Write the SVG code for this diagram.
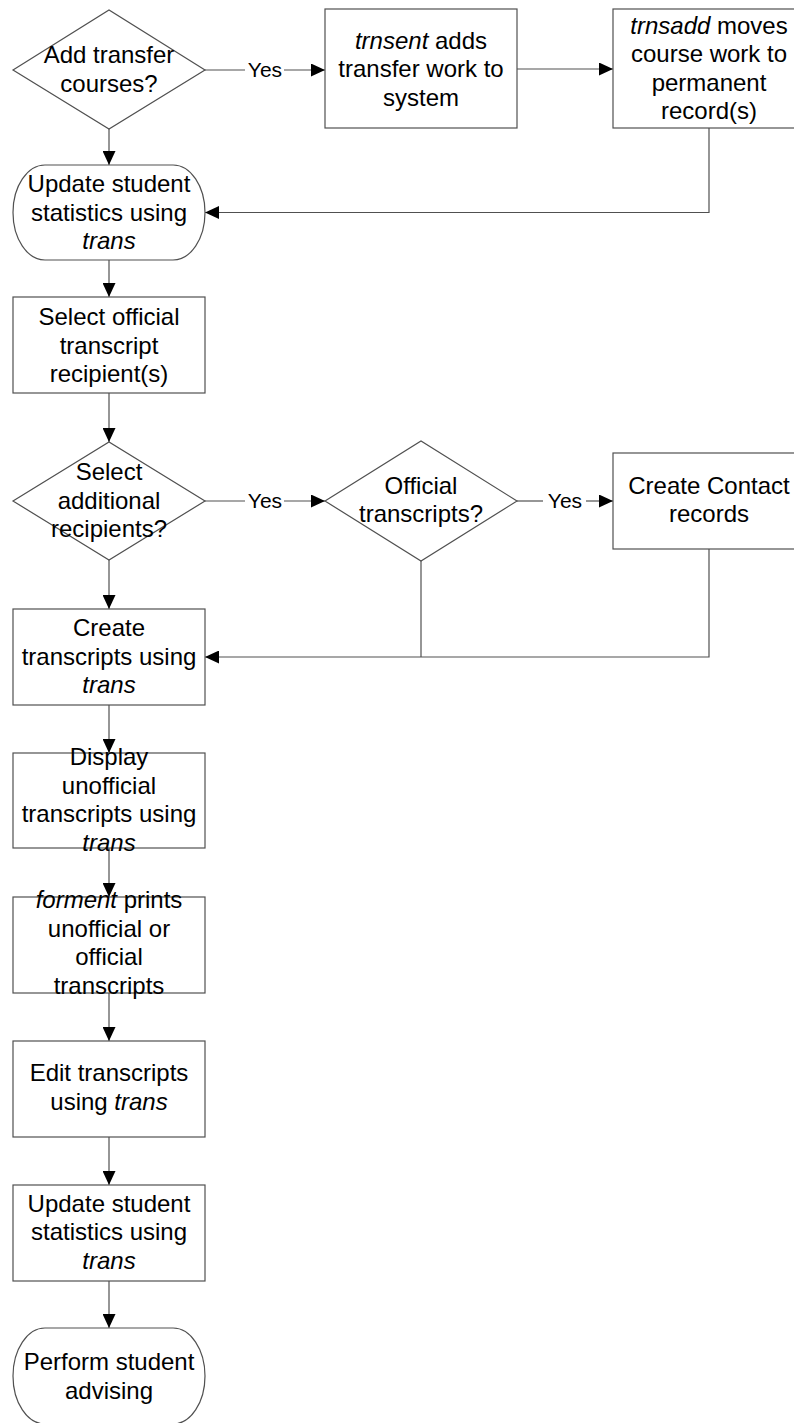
<svg xmlns="http://www.w3.org/2000/svg" width="794" height="1423" viewBox="0 0 794 1423">
<style>
.shape{fill:#fff;stroke:#505050;stroke-width:1.2}
.ln{fill:none;stroke:#505050;stroke-width:1.2}
.t{font-family:"Liberation Sans",Arial,sans-serif;font-size:24px;fill:#000;text-anchor:middle}
.y{font-family:"Liberation Sans",Arial,sans-serif;font-size:21px;fill:#000;text-anchor:middle}
.i{font-style:italic}
</style>
<defs>
<marker id="ah" viewBox="0 0 14 13" refX="14" refY="6.5" markerWidth="14" markerHeight="13" markerUnits="userSpaceOnUse" orient="auto">
<path d="M0,0 L14,6.5 L0,13 Z" fill="#000"/>
</marker>
</defs>
<rect width="794" height="1423" fill="#fff"/>
<g id="connectors">
<line class="ln" x1="205" y1="70" x2="245" y2="70"/>
<line class="ln" x1="284" y1="70" x2="325" y2="70" marker-end="url(#ah)"/>
<line class="ln" x1="517" y1="69" x2="613" y2="69" marker-end="url(#ah)"/>
<polyline class="ln" points="709,128 709,212.5 205,212.5" marker-end="url(#ah)"/>
<line class="ln" x1="109" y1="128" x2="109" y2="165" marker-end="url(#ah)"/>
<line class="ln" x1="109" y1="260" x2="109" y2="297" marker-end="url(#ah)"/>
<line class="ln" x1="109" y1="393" x2="109" y2="442" marker-end="url(#ah)"/>
<line class="ln" x1="205" y1="501" x2="245" y2="501"/>
<line class="ln" x1="284" y1="501" x2="325" y2="501" marker-end="url(#ah)"/>
<line class="ln" x1="517" y1="501" x2="543" y2="501"/>
<line class="ln" x1="586" y1="501" x2="613" y2="501" marker-end="url(#ah)"/>
<line class="ln" x1="421" y1="561" x2="421" y2="657"/>
<polyline class="ln" points="709,549 709,657 205,657" marker-end="url(#ah)"/>
<line class="ln" x1="109" y1="560" x2="109" y2="609" marker-end="url(#ah)"/>
<line class="ln" x1="109" y1="705" x2="109" y2="753" marker-end="url(#ah)"/>
<line class="ln" x1="109" y1="848" x2="109" y2="897" marker-end="url(#ah)"/>
<line class="ln" x1="109" y1="993" x2="109" y2="1041" marker-end="url(#ah)"/>
<line class="ln" x1="109" y1="1137" x2="109" y2="1185" marker-end="url(#ah)"/>
<line class="ln" x1="109" y1="1281" x2="109" y2="1328" marker-end="url(#ah)"/>
<text class="y" x="265" y="77">Yes</text>
<text class="y" x="265" y="508">Yes</text>
<text class="y" x="565" y="508">Yes</text>
</g>
<g id="n_add_transfer">
<polygon class="shape" points="13,70 109,10 205,70 109,129"/>
<text class="t" x="109" y="63">Add transfer</text>
<text class="t" x="109" y="91.5">courses?</text>
</g>
<g id="n_trnsent">
<rect class="shape" x="325" y="9" width="192" height="119"/>
<text class="t" x="421" y="48.5"><tspan class="i">trnsent</tspan> adds</text>
<text class="t" x="421" y="77">transfer work to</text>
<text class="t" x="421" y="105.5">system</text>
</g>
<g id="n_trnsadd">
<rect class="shape" x="613" y="9" width="192" height="119"/>
<text class="t" x="709" y="33.5"><tspan class="i">trnsadd</tspan> moves</text>
<text class="t" x="709" y="62">course work to</text>
<text class="t" x="709" y="90.5">permanent</text>
<text class="t" x="709" y="119">record(s)</text>
</g>
<g id="n_update1">
<rect class="shape" x="13" y="165" width="192" height="95" rx="32" ry="47.5"/>
<text class="t" x="109" y="192">Update student</text>
<text class="t" x="109" y="220.5">statistics using</text>
<text class="t i" x="109" y="249">trans</text>
</g>
<g id="n_select_official">
<rect class="shape" x="13" y="297" width="192" height="96"/>
<text class="t" x="109" y="325">Select official</text>
<text class="t" x="109" y="353.5">transcript</text>
<text class="t" x="109" y="382">recipient(s)</text>
</g>
<g id="n_select_additional">
<polygon class="shape" points="13,501 109,442 205,501 109,560"/>
<text class="t" x="109" y="480">Select</text>
<text class="t" x="109" y="508.5">additional</text>
<text class="t" x="109" y="537">recipients?</text>
</g>
<g id="n_official">
<polygon class="shape" points="325,501 421,441 517,501 421,561"/>
<text class="t" x="421" y="494">Official</text>
<text class="t" x="421" y="522">transcripts?</text>
</g>
<g id="n_contact">
<rect class="shape" x="613" y="453" width="192" height="96"/>
<text class="t" x="709" y="494">Create Contact</text>
<text class="t" x="709" y="522">records</text>
</g>
<g id="n_create_transcripts">
<rect class="shape" x="13" y="609" width="192" height="96"/>
<text class="t" x="109" y="636">Create</text>
<text class="t" x="109" y="664.5">transcripts using</text>
<text class="t i" x="109" y="693">trans</text>
</g>
<g id="n_display">
<rect class="shape" x="13" y="753" width="192" height="95"/>
<text class="t" x="109" y="765">Display</text>
<text class="t" x="109" y="793.5">unofficial</text>
<text class="t" x="109" y="822">transcripts using</text>
<text class="t i" x="109" y="850.5">trans</text>
</g>
<g id="n_forment">
<rect class="shape" x="13" y="897" width="192" height="96"/>
<text class="t" x="109" y="908"><tspan class="i">forment</tspan> prints</text>
<text class="t" x="109" y="936.5">unofficial or</text>
<text class="t" x="109" y="965">official</text>
<text class="t" x="109" y="993.5">transcripts</text>
</g>
<g id="n_edit">
<rect class="shape" x="13" y="1041" width="192" height="96"/>
<text class="t" x="109" y="1081">Edit transcripts</text>
<text class="t" x="109" y="1109.5">using <tspan class="i">trans</tspan></text>
</g>
<g id="n_update2">
<rect class="shape" x="13" y="1185" width="192" height="96"/>
<text class="t" x="109" y="1211.5">Update student</text>
<text class="t" x="109" y="1240">statistics using</text>
<text class="t i" x="109" y="1268.5">trans</text>
</g>
<g id="n_advising">
<rect class="shape" x="13" y="1328" width="192" height="96" rx="32" ry="48"/>
<text class="t" x="109" y="1370">Perform student</text>
<text class="t" x="109" y="1398.5">advising</text>
</g>
</svg>
